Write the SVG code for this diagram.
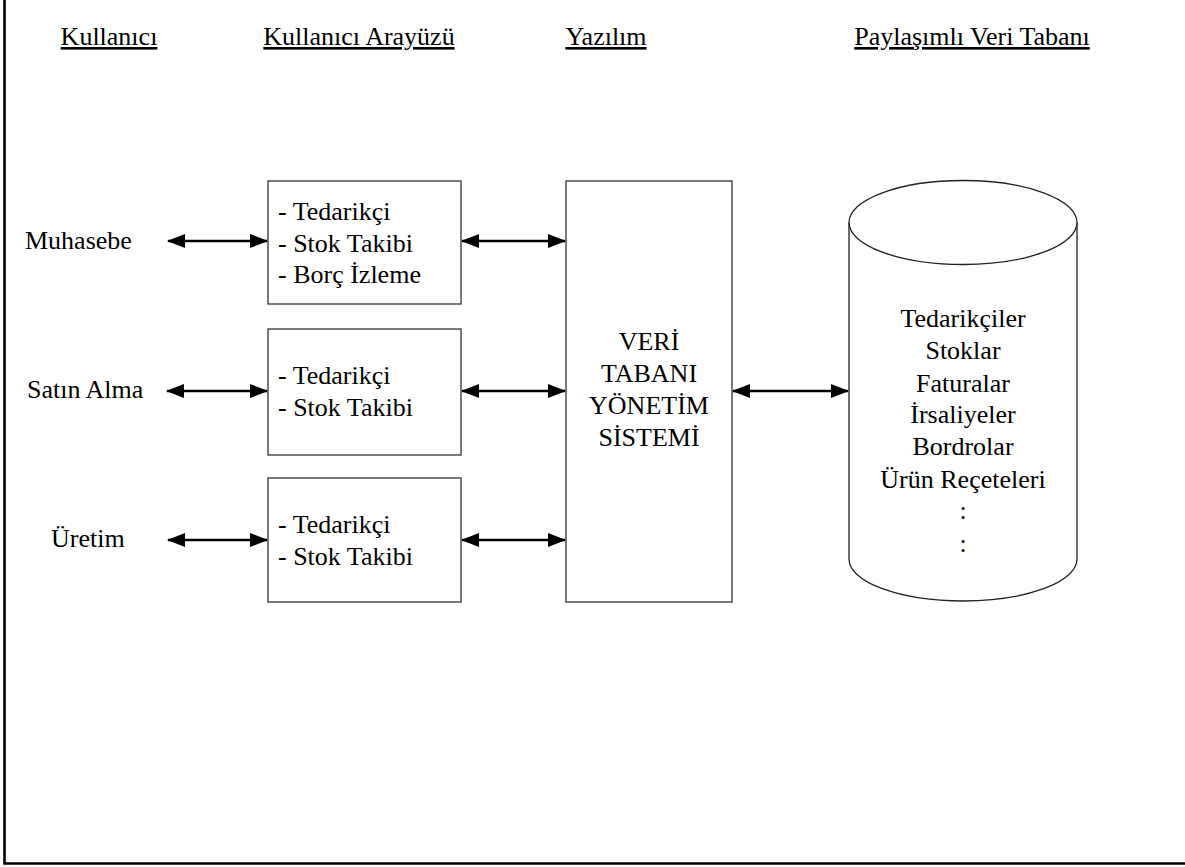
<svg xmlns="http://www.w3.org/2000/svg" width="1185" height="867" viewBox="0 0 1185 867" font-family="'Liberation Serif', 'DejaVu Serif', serif" font-size="26">
  <style>
    .hdr { text-anchor: middle; text-decoration: underline; }
    .mid { text-anchor: middle; }
    .box { fill: #fff; stroke: #333; stroke-width: 1.3; }
    .link { stroke: #000; stroke-width: 2.6; fill: none; marker-start: url(#head); marker-end: url(#head); }
    .frame { stroke: #000; stroke-width: 2.6; fill: none; }
  </style>
  <defs>
    <marker id="head" viewBox="0 0 18 14" refX="17" refY="7" markerWidth="18" markerHeight="14" markerUnits="userSpaceOnUse" orient="auto-start-reverse">
      <path d="M0,0 L18,7 L0,14 z" fill="#000"/>
    </marker>
  </defs>

  <rect width="1185" height="867" fill="#fff"/>

  <!-- page frame (left and bottom edges) -->
  <polyline class="frame" points="4.5,0 4.5,863.5 1185,863.5"/>

  <!-- column headers -->
  <g id="headers">
    <text class="hdr" x="109" y="45">Kullanıcı</text>
    <text class="hdr" x="359" y="45">Kullanıcı Arayüzü</text>
    <text class="hdr" x="606" y="45">Yazılım</text>
    <text class="hdr" x="972" y="45">Paylaşımlı Veri Tabanı</text>
  </g>

  <!-- users -->
  <g id="user-muhasebe"><text x="25" y="249">Muhasebe</text></g>
  <g id="user-satinalma"><text x="27" y="398">Satın Alma</text></g>
  <g id="user-uretim"><text x="51" y="547">Üretim</text></g>

  <!-- user interfaces -->
  <g id="ui-1">
    <rect class="box" x="268" y="181" width="193" height="123"/>
    <text x="278" y="220">- Tedarikçi</text>
    <text x="278" y="252">- Stok Takibi</text>
    <text x="278" y="283">- Borç İzleme</text>
  </g>
  <g id="ui-2">
    <rect class="box" x="268" y="329" width="193" height="126"/>
    <text x="278" y="384">- Tedarikçi</text>
    <text x="278" y="416">- Stok Takibi</text>
  </g>
  <g id="ui-3">
    <rect class="box" x="268" y="478" width="193" height="124"/>
    <text x="278" y="533">- Tedarikçi</text>
    <text x="278" y="565">- Stok Takibi</text>
  </g>

  <!-- database management system -->
  <g id="dbms">
    <rect class="box" x="566" y="181" width="166" height="421"/>
    <text class="mid" x="649" y="350">VERİ</text>
    <text class="mid" x="649" y="382">TABANI</text>
    <text class="mid" x="649" y="414">YÖNETİM</text>
    <text class="mid" x="649" y="446">SİSTEMİ</text>
  </g>

  <!-- shared database cylinder -->
  <g id="shared-db">
    <path d="M849,222.5 L849,559 A114,42 0 0 0 1077,559 L1077,222.5" fill="#fff" stroke="#222" stroke-width="1.3"/>
    <ellipse cx="963" cy="222.5" rx="114" ry="42" fill="#fff" stroke="#222" stroke-width="1.3"/>
    <text class="mid" x="963" y="327">Tedarikçiler</text>
    <text class="mid" x="963" y="359">Stoklar</text>
    <text class="mid" x="963" y="392">Faturalar</text>
    <text class="mid" x="963" y="423">İrsaliyeler</text>
    <text class="mid" x="963" y="455">Bordrolar</text>
    <text class="mid" x="963" y="488">Ürün Reçeteleri</text>
    <text class="mid" x="963" y="519">:</text>
    <text class="mid" x="963" y="552">:</text>
  </g>

  <!-- connectors -->
  <g id="connectors">
    <line class="link" x1="168" y1="241" x2="267" y2="241"/>
    <line class="link" x1="167" y1="391" x2="267" y2="391"/>
    <line class="link" x1="168" y1="540" x2="267" y2="540"/>
    <line class="link" x1="462" y1="241" x2="565" y2="241"/>
    <line class="link" x1="462" y1="391" x2="565" y2="391"/>
    <line class="link" x1="462" y1="540" x2="565" y2="540"/>
    <line class="link" x1="733" y1="391" x2="848" y2="391"/>
  </g>
</svg>
